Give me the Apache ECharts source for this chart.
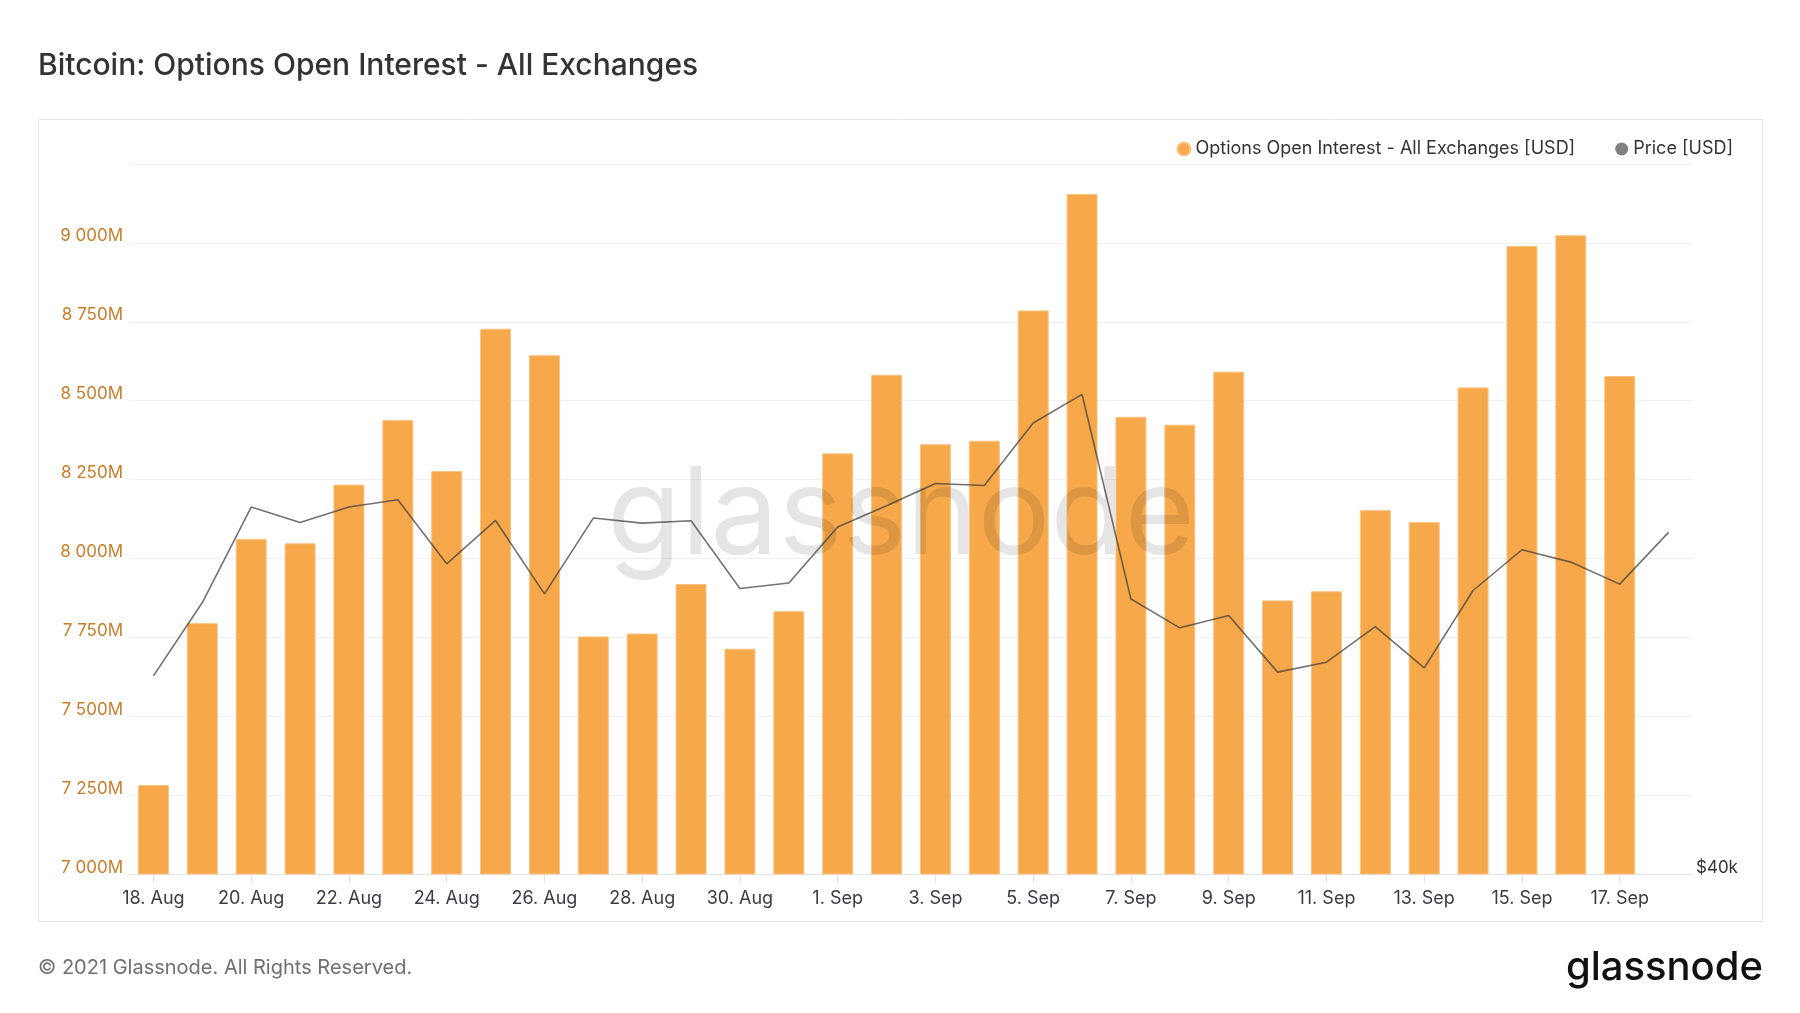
<!DOCTYPE html>
<html>
<head>
<meta charset="utf-8">
<script src="https://cdn.jsdelivr.net/npm/echarts@6/dist/echarts.min.js"></script>
<style>
html,body{margin:0;padding:0;background:#fff;}
#chart{width:1800px;height:1013px;}
</style>
</head>
<body>
<div id="chart"></div>
<script>
const categories = ['18. Aug','19. Aug','20. Aug','21. Aug','22. Aug','23. Aug','24. Aug','25. Aug','26. Aug','27. Aug','28. Aug','29. Aug','30. Aug','31. Aug',
  '1. Sep','2. Sep','3. Sep','4. Sep','5. Sep','6. Sep','7. Sep','8. Sep','9. Sep','10. Sep','11. Sep','12. Sep','13. Sep','14. Sep','15. Sep','16. Sep','17. Sep','18. Sep'];

// Options open interest, millions USD
const openInterest = [7282,7795,8062,8048,8234,8439,8277,8728,8644,7753,7762,7919,7714,7833,
  8333,8582,8362,8373,8786,9155,8449,8424,8592,7867,7896,8153,8115,8542,8990,9024,8578,null];

// BTC price, USD
const price = [44917,46886,49580,49135,49580,49793,47960,49192,47125,49261,49116,49183,47273,47425,
  49004,49618,50268,50209,52079,52957,46981,46197,46533,45015,45277,46232,45128,47217,48356,48008,47393,48849];

const yTicksM = [7000,7250,7500,7750,8000,8250,8500,8750,9000];
const priceTickLabel = '$40k';

const FONT = 'Inter, "Noto Sans", sans-serif';

function fmtM(v){
  const m = Math.round(v/1e6);
  if (yTicksM.indexOf(m) < 0) return '';
  return String(m).replace(/\B(?=(\d{3})+(?!\d))/g,' ') + 'M';
}

const chart = echarts.init(document.getElementById('chart'), null, {renderer:'canvas'});
chart.setOption({
  animation:false,
  backgroundColor:'#fff',
  textStyle:{fontFamily:FONT},
  title:{
    text:'Bitcoin: Options Open Interest - All Exchanges',
    left:33, top:46,
    textStyle:{fontFamily:FONT, fontSize:30, fontWeight:500, color:'#333'}
  },
  legend:{
    right:62, top:135,
    icon:'circle', itemWidth:13, itemHeight:13, itemGap:40,
    textStyle:{fontFamily:FONT, fontSize:18, color:'#333'},
    data:['Options Open Interest - All Exchanges [USD]','Price [USD]']
  },
  grid:{left:129, right:107, top:164, bottom:139, containLabel:false},
  graphic:[
    {type:'rect', z:-10, shape:{x:38.5,y:119.5,width:1724,height:802}, style:{fill:'none', stroke:'#e6e6e6', lineWidth:1}},
    {type:'text', z:3, zlevel:0, x:901, y:518, style:{text:'glassnode', fontFamily:FONT, fontSize:121, fontWeight:400, fill:'rgba(0,0,0,0.1)', align:'center', verticalAlign:'middle'}},
    {type:'text', x:38, y:968, style:{text:'© 2021 Glassnode. All Rights Reserved.', fontFamily:FONT, fontSize:20, fill:'#707070', align:'left', verticalAlign:'middle'}},
    {type:'text', x:1763, y:968, style:{text:'glassnode', fontFamily:FONT, fontSize:40, fontWeight:500, fill:'#111', align:'right', verticalAlign:'middle'}}
  ],
  xAxis:{
    type:'category', data:categories, boundaryGap:true,
    axisLine:{lineStyle:{color:'#e3e3e3'}},
    axisTick:{show:true, alignWithLabel:true, interval:1, length:9, lineStyle:{color:'#e3e3e3'}},
    axisLabel:{interval:1, margin:16, fontFamily:FONT, fontSize:18, color:'#3a3a46'},
    splitLine:{show:false}
  },
  yAxis:[
    {
      type:'value', min:7000e6, max:9250e6, interval:250e6, position:'left',
      axisLine:{show:false}, axisTick:{show:false},
      axisLabel:{formatter:fmtM, margin:6, fontFamily:FONT, fontSize:17, color:'#c97d2a', verticalAlign:'bottom', padding:[0,0,-2,0]},
      splitLine:{lineStyle:{color:'#f0f0f0', width:1}}
    },
    {
      type:'log', logBase:10, min:40000, max:60600, position:'right',
      axisLine:{show:false}, axisTick:{show:false}, splitLine:{show:false},
      axisLabel:{showMinLabel:true, showMaxLabel:false, margin:3, fontFamily:FONT, fontSize:17, color:'#333', verticalAlign:'bottom', padding:[0,0,-2,0],
        formatter:function(v){ return (v < 40500) ? priceTickLabel : ''; }}
    }
  ],
  series:[
    {
      name:'Options Open Interest - All Exchanges [USD]', type:'bar', yAxisIndex:0, z:2,
      barWidth:31,
      data:openInterest.map(v => v === null ? null : v*1e6),
      itemStyle:{color:'#f7a84a', borderColor:'#f9c385', borderWidth:1}
    },
    {
      name:'Price [USD]', type:'line', yAxisIndex:1, z:5,
      data:price, symbol:'none', showSymbol:false,
      itemStyle:{color:'#808080'},
      lineStyle:{color:'rgba(60,60,60,0.72)', width:1.6}
    }
  ]
});
</script>
</body>
</html>
